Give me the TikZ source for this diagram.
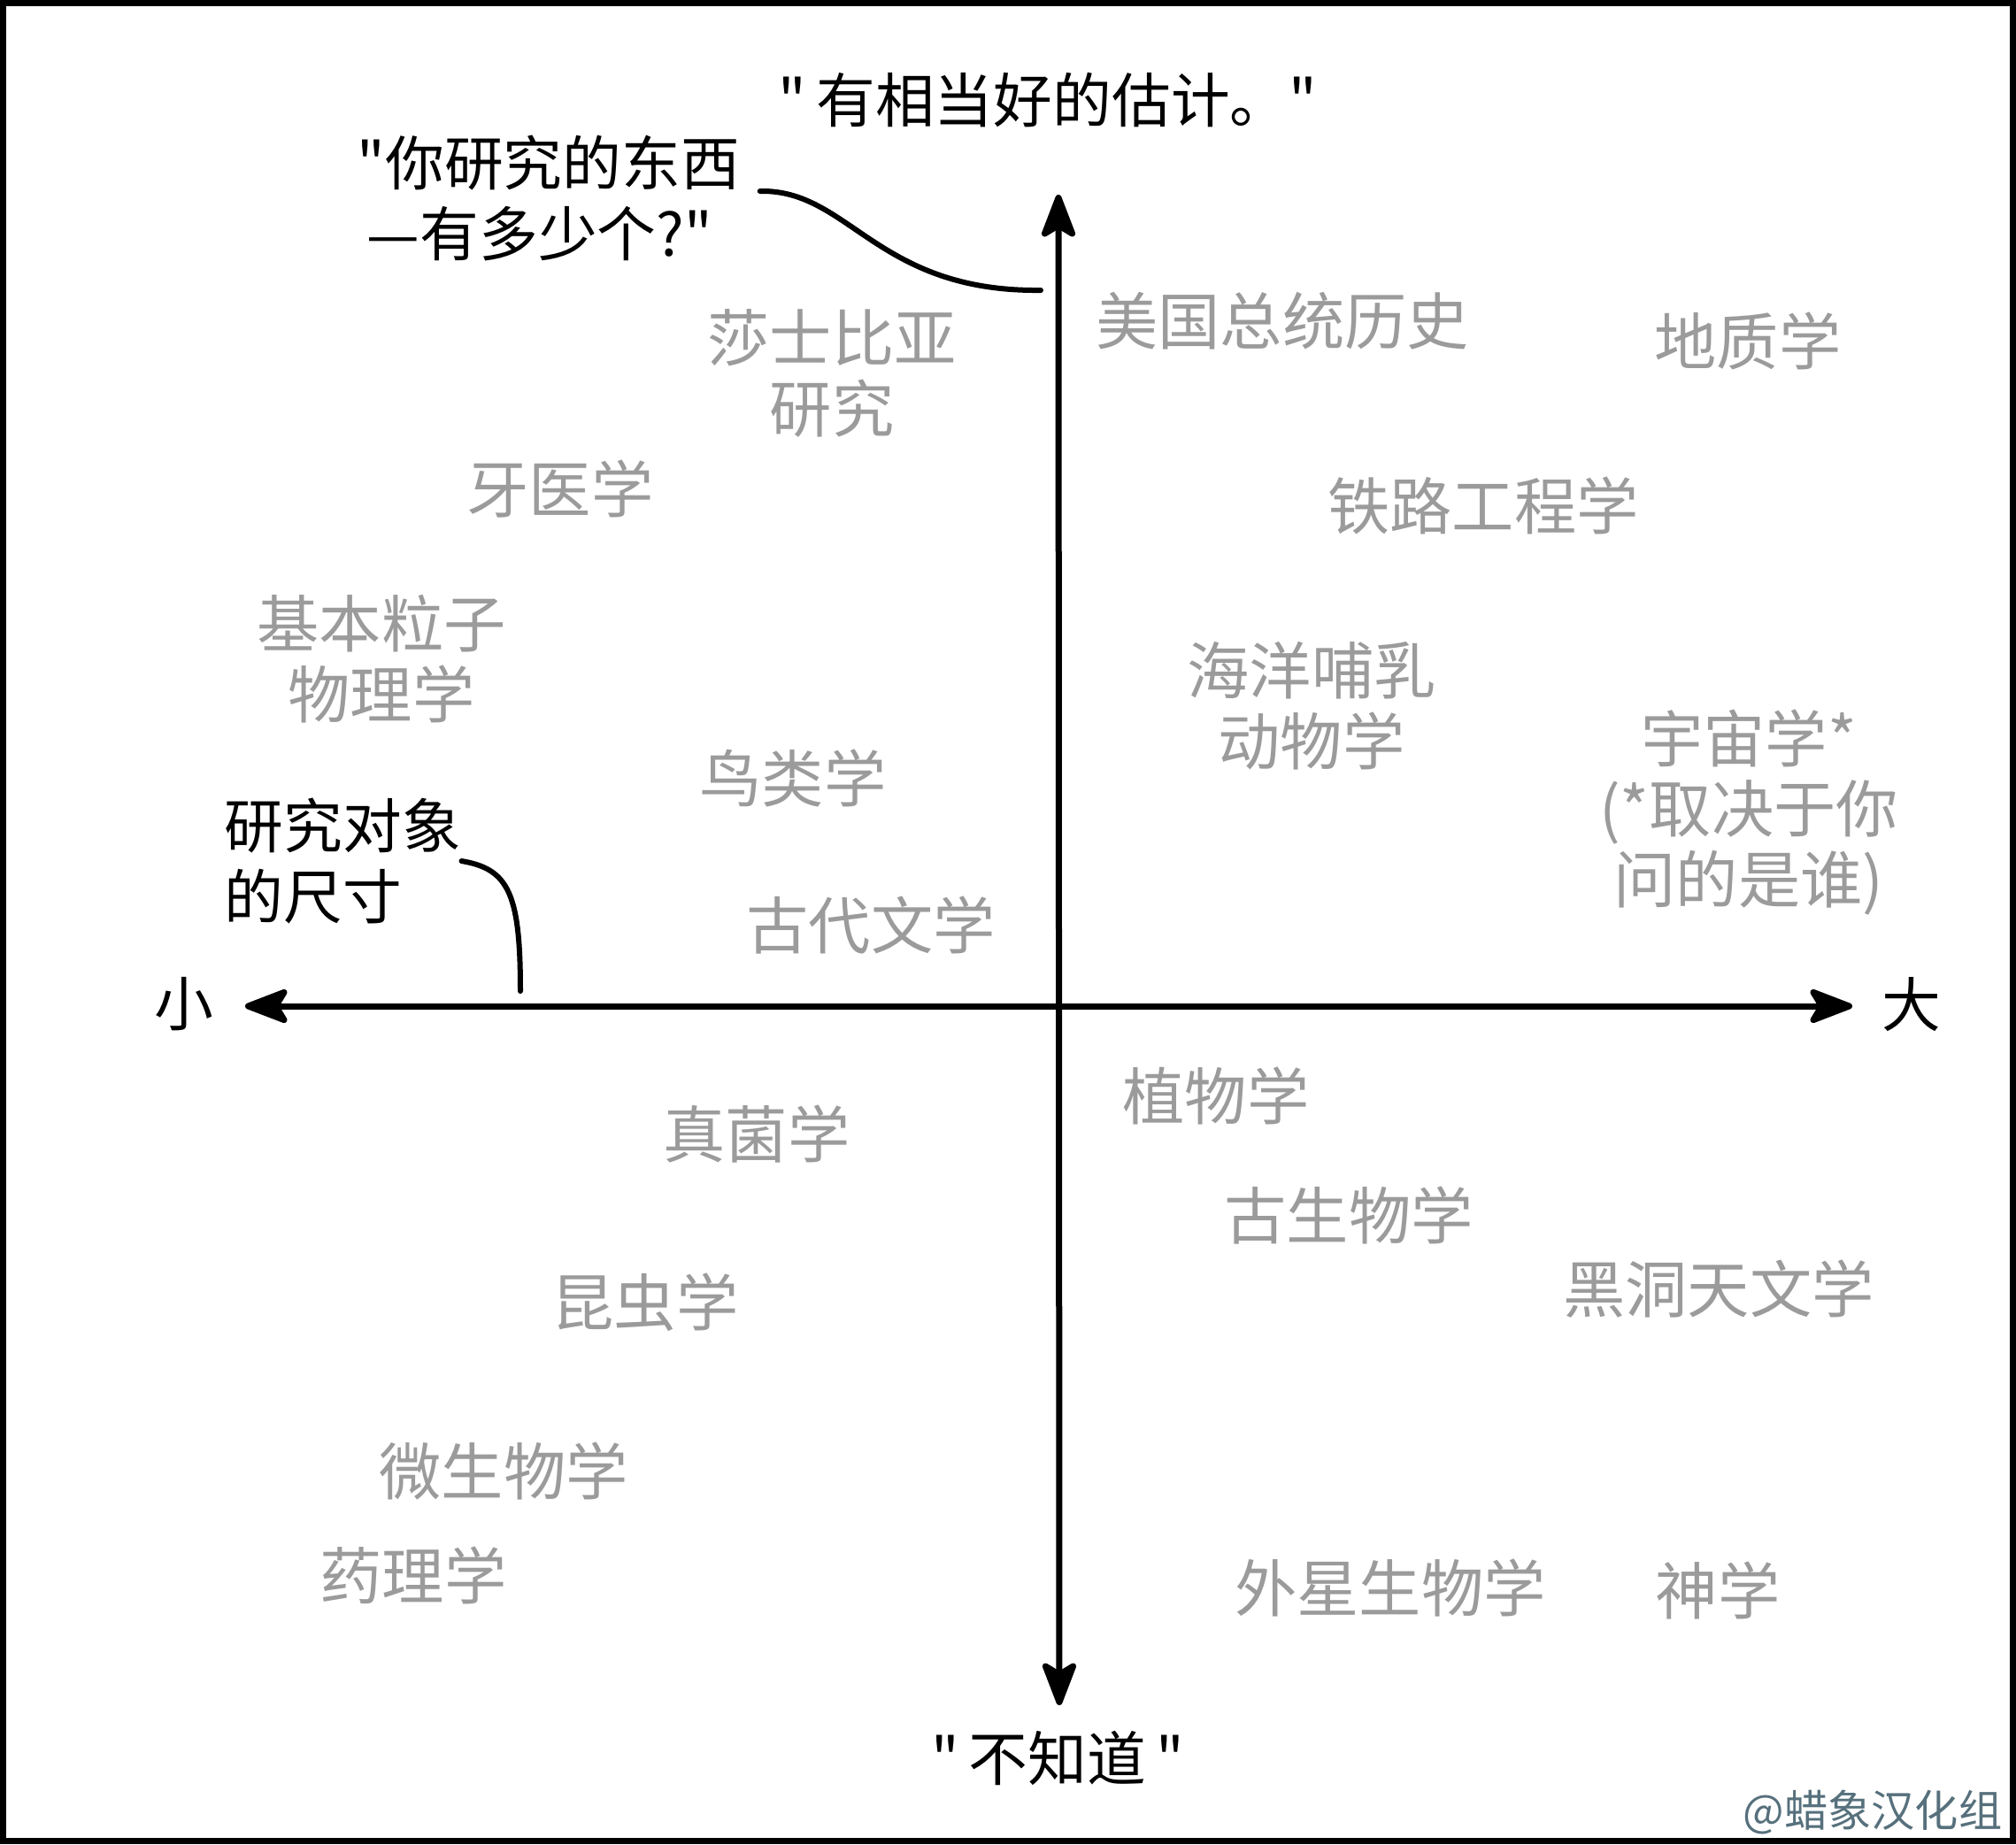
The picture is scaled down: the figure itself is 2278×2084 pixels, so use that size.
\documentclass[tikz,border=0pt]{standalone}
\usepackage{fontspec}
\setmainfont{Noto Sans CJK SC}
\usetikzlibrary{arrows.meta,positioning,calc}
\definecolor{fieldgray}{HTML}{9B9B9B}
\definecolor{markgray}{HTML}{56707C}

\begin{document}
\begin{tikzpicture}[x=0.1mm, y=-0.1mm,
    field/.style={text=fieldgray, font=\fontsize{20}{22.7}\selectfont, align=center, inner sep=0pt},
    note/.style={font=\fontsize{19}{22.7}\selectfont, align=left, inner sep=0pt},
    axisline/.style={line width=0.7mm, {Stealth[length=5.8mm,width=4.4mm,inset=1.3mm,round]}-{Stealth[length=5.8mm,width=4.4mm,inset=1.3mm,round]}},
    callout/.style={line width=0.6mm, line cap=round}
]

\useasboundingbox (0,0) rectangle (2278,2084);
\draw[line width=0.7mm] (3.5,3.5) rectangle (2274.5,2080.5);

% Axes
\coordinate (top) at (1196,220);
\coordinate (bottom) at (1197,1927);
\coordinate (left) at (277,1137);
\coordinate (right) at (2093,1137);
\draw[axisline] (bottom) -- (top);
\draw[axisline] (left) -- (right);

\node[note] (good) at (1184,113) {\textquotedbl\,有相当好的估计。\textquotedbl};
\node[note] (unknown) at (1195,1987) {\textquotedbl\,不知道\,\textquotedbl};
\node[note] (small) at (208,1135) {小};
\node[note] (big) at (2160,1135) {大};

% Callouts
\node[note, anchor=west] (howmany) at (403,224) {\textquotedbl 你研究的东西\\\,—有多少个?\textquotedbl};
\coordinate (howmanyend) at (1176,328);
\draw[callout] ([shift={(22,-8)}]howmany.east) .. controls (960,214) and (990,330) .. (howmanyend);

\node[note, anchor=west] (size) at (253,973) {研究对象\\的尺寸};
\coordinate (sizeend) at (588,1120);
\draw[callout] (size.east) .. controls (575,982) and (588,1010) .. (sizeend);

% Fields, top half
\node[field] (presidents) at (1449,363) {美国总统历史};
\node[field] (geology) at (1975,385) {地质学};
\node[field] (shakespeare) at (940,422) {莎士比亚\\研究};
\node[field] (dentistry) at (633,552) {牙医学};
\node[field] (railway) at (1676,571) {铁路工程学};
\node[field] (particle) at (431,745) {基本粒子\\物理学};
\node[field] (marine) at (1482,798) {海洋哺乳\\动物学};
\node[field] (cosmology) at (1976,918) {宇宙学*\\(*取决于你\\问的是谁)};
\node[field] (ornithology) at (896,879) {鸟类学};
\node[field] (literature) at (984,1046) {古代文学};

% Fields, bottom half
\node[field] (botany) at (1374,1238) {植物学};
\node[field] (mycology) at (855,1281) {真菌学};
\node[field] (paleontology) at (1524,1373) {古生物学};
\node[field] (blackhole) at (1942,1457) {黑洞天文学};
\node[field] (entomology) at (729,1472) {昆虫学};
\node[field] (microbiology) at (569,1663) {微生物学};
\node[field] (pharmacology) at (467,1780) {药理学};
\node[field] (xenobiology) at (1571,1794) {外星生物学};
\node[field] (theology) at (1941,1797) {神学};

\node[anchor=east, inner sep=0pt, text=markgray, font=\fontsize{14}{16}\selectfont] (credit) at (2263,2048) {@蜡象汉化组};

\end{tikzpicture}
\end{document}
